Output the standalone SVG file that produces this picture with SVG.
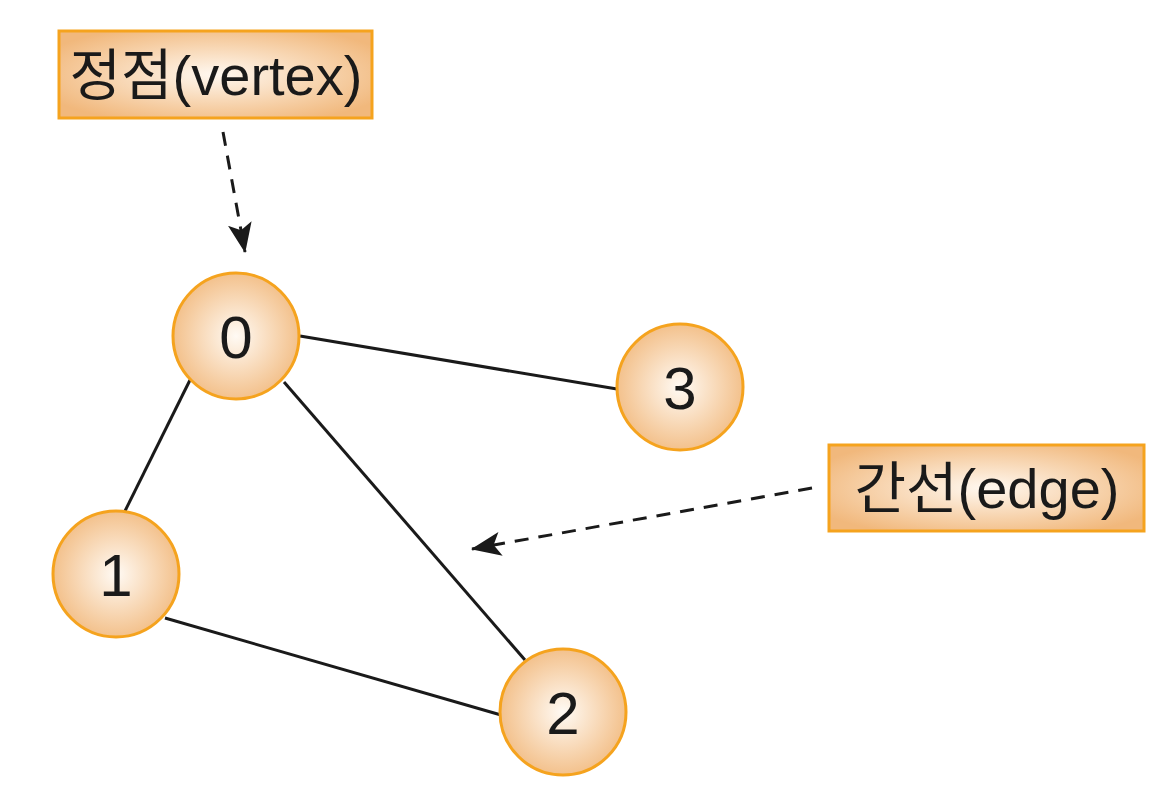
<svg xmlns="http://www.w3.org/2000/svg" width="1175" height="800" viewBox="0 0 1175 800">
<defs>
<radialGradient id="ng" cx="50%" cy="50%" r="50%">
<stop offset="0" stop-color="#fffaf4"/>
<stop offset="1" stop-color="#f3c18c"/>
</radialGradient>
<radialGradient id="bg" cx="50%" cy="50%" r="60%">
<stop offset="0" stop-color="#fff8f0"/>
<stop offset="1" stop-color="#f1b87c"/>
</radialGradient>
<marker id="ah" viewBox="0 0 30 24" refX="29" refY="12" markerWidth="30" markerHeight="24" markerUnits="userSpaceOnUse" orient="auto">
<path d="M0,0 L30,12 L0,24 L7,12 Z" fill="#1a1a1a"/>
</marker>
<style>
.node{fill:url(#ng);stroke:#f5a31e;stroke-width:3}
.box{fill:url(#bg);stroke:#f5a31e;stroke-width:3}
.num{font-family:"Liberation Sans",Arial,sans-serif;font-size:60px;fill:#1a1a1a;text-anchor:middle}
.lbl{font-family:"Liberation Sans","Noto Sans CJK KR",sans-serif;font-size:56px;fill:#1a1a1a;text-anchor:middle}
.edge{stroke:#1a1a1a;stroke-width:3;fill:none}
.dash{stroke:#1a1a1a;stroke-width:3;fill:none;stroke-dasharray:14,10}
</style>
</defs>
<rect width="1175" height="800" fill="#ffffff"/>
<g id="connectors">
<line class="edge" x1="300" y1="336" x2="617" y2="389"/>
<line class="edge" x1="190" y1="380" x2="124" y2="513"/>
<line class="edge" x1="284" y1="382" x2="525" y2="660"/>
<line class="edge" x1="165" y1="618" x2="501" y2="715"/>
<line class="dash" x1="223" y1="132" x2="245" y2="252" marker-end="url(#ah)"/>
<line class="dash" x1="812" y1="488" x2="472" y2="549" marker-end="url(#ah)"/>
</g>
<g id="label-vertex">
<rect class="box" x="59" y="31" width="313" height="87"/>
<text class="lbl" x="216" y="95">정점(vertex)</text>
</g>
<g id="label-edge">
<rect class="box" x="829" y="445" width="315" height="86"/>
<text class="lbl" x="987" y="508">간선(edge)</text>
</g>
<g id="node0">
<circle class="node" cx="236" cy="336" r="63"/>
<text class="num" x="236" y="358">0</text>
</g>
<g id="node3">
<circle class="node" cx="680" cy="387" r="63"/>
<text class="num" x="680" y="409">3</text>
</g>
<g id="node1">
<circle class="node" cx="116" cy="574" r="63"/>
<text class="num" x="116" y="596">1</text>
</g>
<g id="node2">
<circle class="node" cx="563" cy="712" r="63"/>
<text class="num" x="563" y="734">2</text>
</g>
</svg>
